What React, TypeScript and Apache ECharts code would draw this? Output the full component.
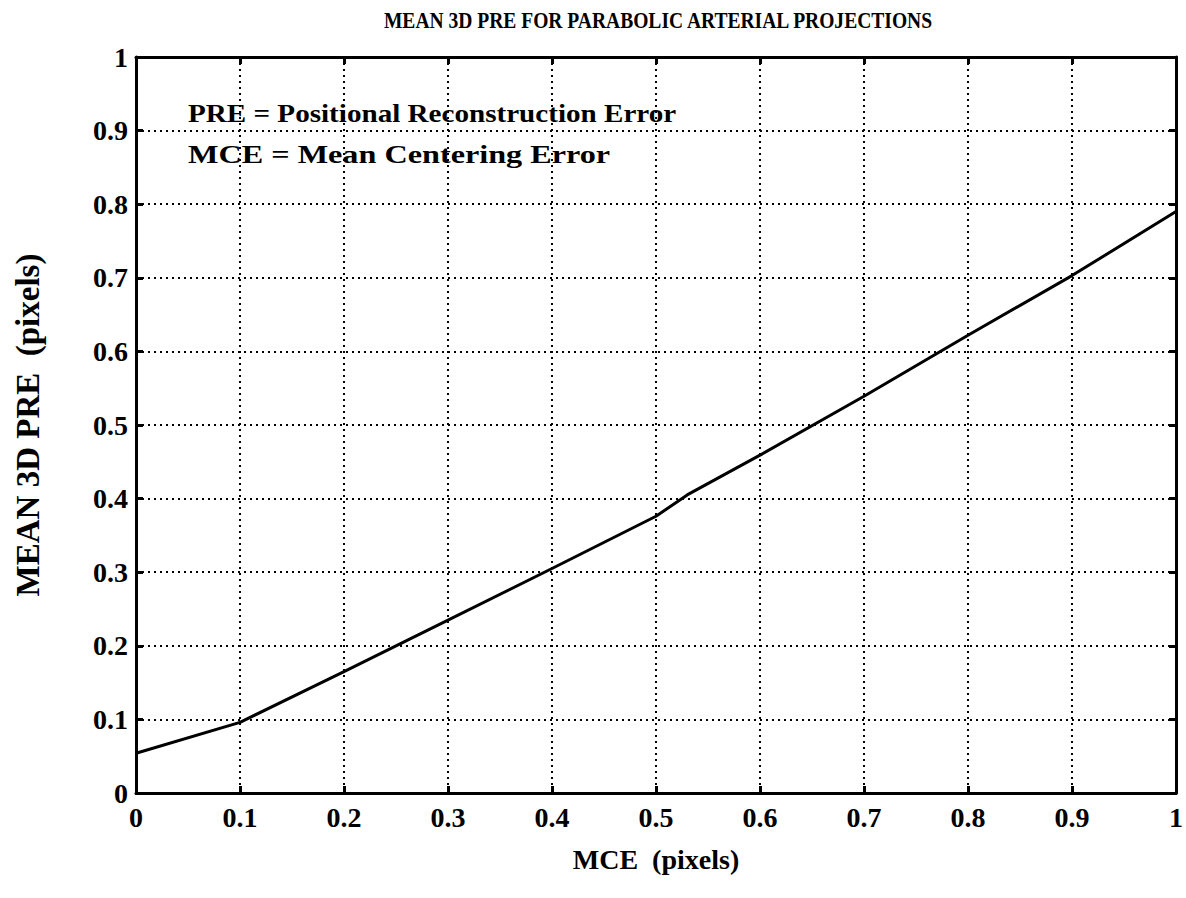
import React, { useEffect, useRef } from "react";
import * as echarts from "echarts";

const xValues = [0, 0.1, 0.2, 0.3, 0.4, 0.5, 0.53, 0.6, 0.7, 0.8, 0.9, 1.0];
const yValues = [0.054, 0.096, 0.165, 0.235, 0.305, 0.376, 0.405, 0.459, 0.539, 0.622, 0.703, 0.79];
const titleText = "MEAN 3D PRE FOR PARABOLIC ARTERIAL PROJECTIONS";
const xName = "MCE  (pixels)";
const yName = "MEAN 3D PRE  (pixels)";
const notes = ["PRE = Positional Reconstruction Error", "MCE = Mean Centering Error"];

const FONT = "'Liberation Serif', 'DejaVu Serif', serif";

export default function App() {
  const ref = useRef<HTMLDivElement>(null);
  useEffect(() => {
    if (!ref.current) return;
    const chart = echarts.init(ref.current, null, { renderer: "svg" });
    const data = xValues.map((x, i) => [x, yValues[i]]);
    const labelFmt = (v: number) => (Math.abs(v - Math.round(v)) < 1e-9 ? String(Math.round(v)) : String(+v.toFixed(1)));
    const grid = { left: 136, right: 5, top: 57, bottom: 105 };
    const gridLine = { show: true, lineStyle: { color: "#000", type: [2, 4] as any, width: 2 } };
    const noteScale = [1.12, 1.24];
    chart.setOption({
      animation: false,
      backgroundColor: "#fff",
      grid,
      xAxis: [
        {
          type: "value",
          min: 0,
          max: 1,
          interval: 0.1,
          name: xName,
          nameLocation: "middle",
          nameGap: 52,
          nameTextStyle: { fontFamily: FONT, fontWeight: "bold", fontSize: 28, color: "#000" },
          axisLine: { show: true, onZero: false, lineStyle: { color: "#000", width: 3 } },
          axisTick: { show: true, inside: true, length: 7, lineStyle: { color: "#000", width: 3 } },
          axisLabel: { formatter: labelFmt, margin: 10, fontFamily: FONT, fontWeight: "bold", fontSize: 28, color: "#000" },
          splitLine: gridLine,
        },
        {
          type: "value",
          position: "top",
          min: 0,
          max: 1,
          interval: 0.1,
          axisLine: { show: true, onZero: false, lineStyle: { color: "#000", width: 3 } },
          axisTick: { show: true, inside: true, length: 7, lineStyle: { color: "#000", width: 3 } },
          axisLabel: { show: false },
          splitLine: { show: false },
        },
      ],
      yAxis: [
        {
          type: "value",
          min: 0,
          max: 1,
          interval: 0.1,
          name: yName,
          nameLocation: "middle",
          nameGap: 92,
          nameRotate: 90,
          nameTextStyle: { fontFamily: FONT, fontWeight: "bold", fontSize: 33, color: "#000" },
          axisLine: { show: true, onZero: false, lineStyle: { color: "#000", width: 3 } },
          axisTick: { show: true, inside: true, length: 7, lineStyle: { color: "#000", width: 3 } },
          axisLabel: { formatter: labelFmt, margin: 8, fontFamily: FONT, fontWeight: "bold", fontSize: 28, color: "#000" },
          splitLine: gridLine,
        },
        {
          type: "value",
          position: "right",
          min: 0,
          max: 1,
          interval: 0.1,
          axisLine: { show: true, onZero: false, lineStyle: { color: "#000", width: 3 } },
          axisTick: { show: true, inside: true, length: 7, lineStyle: { color: "#000", width: 3 } },
          axisLabel: { show: false },
          splitLine: { show: false },
        },
      ],
      graphic: [
        {
          type: "text",
          x: 658,
          y: 20,
          scaleX: 0.85,
          style: { text: titleText, fontFamily: FONT, fontWeight: "bold", fontSize: 23, fill: "#000", align: "center", verticalAlign: "middle" },
        },
        ...notes.map((t, i) => ({
          type: "text",
          x: 188,
          y: 113 + i * 41,
          scaleX: noteScale[i],
          style: { text: t, fontFamily: FONT, fontWeight: "bold", fontSize: 26, fill: "#000", verticalAlign: "middle" },
        })),
      ],
      series: [
        {
          type: "line",
          data,
          showSymbol: false,
          symbol: "none",
          lineStyle: { color: "#000", width: 3 },
        },
      ],
    });
    return () => chart.dispose();
  }, []);
  return <div ref={ref} style={{ position: "fixed", left: 0, top: 0, width: 1186, height: 898 }} />;
}
